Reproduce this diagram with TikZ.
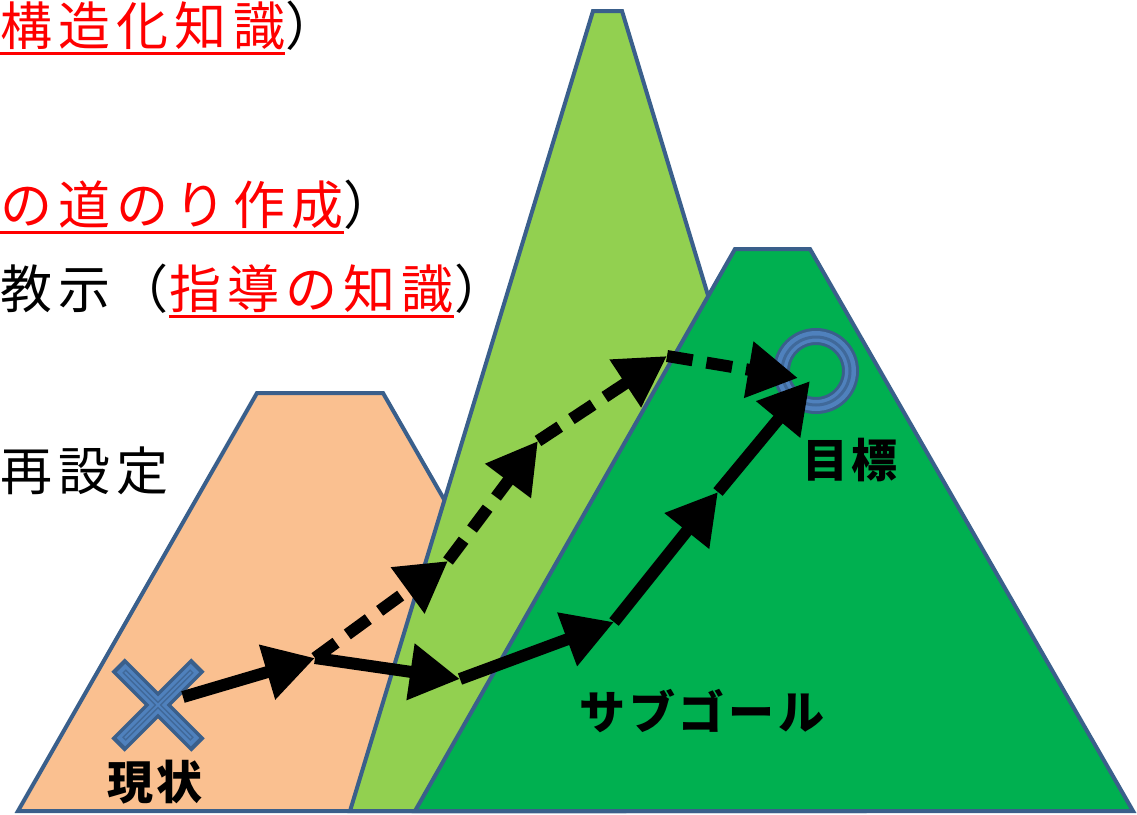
\documentclass[tikz,border=0pt]{standalone}
\usepackage{fontspec}
\newfontfamily\jp{Noto Sans CJK JP}[LetterSpace=12]
\newfontfamily\jpb{Noto Sans CJK JP}[LetterSpace=8]
\usetikzlibrary{arrows.meta}
\definecolor{peach}{HTML}{FAC090}
\definecolor{lgreen}{HTML}{92D050}
\definecolor{dgreen}{HTML}{00B050}
\definecolor{edge}{HTML}{3A5F8B}
\definecolor{mblue}{HTML}{4F81BD}
\definecolor{jred}{HTML}{FF0000}
\tikzset{
  mtn/.style={draw=edge, line width=4pt, line join=miter},
  txt/.style={inner sep=0pt, font=\jp\fontsize{52}{62}\selectfont},
  lbl/.style={inner sep=0pt, font=\jpb\bfseries\fontsize{46}{55}\selectfont},
  ul/.style={draw=jred, line width=3pt},
  arr/.style={line width=12pt, -{Triangle[length=50pt,width=54pt]}},
  darr/.style={arr, dash pattern=on 26pt off 14pt},
  ringdark/.style={draw=edge, line width=17pt},
  ringlight/.style={draw=mblue, line width=11pt},
  ringmid/.style={draw=edge!70!mblue, line width=3pt},
}
\begin{document}
\begin{tikzpicture}[x=1pt,y=-1pt]
\useasboundingbox (0,0) rectangle (1137,814);
\fill[white] (0,0) rectangle (1137,814);
% mountains
\draw[mtn, fill=peach] (18,811) -- (257,393) -- (383,393) -- (623,811) -- cycle;
\draw[mtn, fill=lgreen] (350,811) -- (593,11) -- (622,11) -- (864,811) -- cycle;
\draw[mtn, fill=dgreen] (415,811) -- (735,249) -- (810,249) -- (1133,811) -- cycle;
% texts
\node[txt, text=jred, anchor=base west] (t1) at (0,45) {構造化知識};
\node[txt, anchor=base west] (t1b) at (t1.base east) {）};
\draw[ul] ([yshift=-8pt]t1.base west) -- ([yshift=-8pt]t1.base east);
\node[txt, text=jred, anchor=base west] (t2) at (0,224) {の道のり作成};
\node[txt, anchor=base west] (t2b) at (t2.base east) {）};
\draw[ul] ([yshift=-8pt]t2.base west) -- ([yshift=-8pt]t2.base east);
\node[txt, anchor=base west] (t3a) at (0,308) {教示（};
\node[txt, text=jred, anchor=base west] (t3) at (t3a.base east) {指導の知識};
\node[txt, anchor=base west] (t3b) at (t3.base east) {）};
\draw[ul] ([yshift=-8pt]t3.base west) -- ([yshift=-8pt]t3.base east);
\node[txt, anchor=base west] (t4) at (0,490) {再設定};
% current state X
\coordinate (cur) at (158,705);
\draw[edge, line width=19pt] ([shift={(-40,-40)}]cur) -- ([shift={(40,40)}]cur)
  ([shift={(-40,40)}]cur) -- ([shift={(40,-40)}]cur);
\draw[mblue, line width=12pt] ([shift={(-37,-37)}]cur) -- ([shift={(37,37)}]cur)
  ([shift={(-37,37)}]cur) -- ([shift={(37,-37)}]cur);
\draw[edge!70!mblue, line width=5pt] ([shift={(-34,-34)}]cur) -- ([shift={(34,34)}]cur)
  ([shift={(-34,34)}]cur) -- ([shift={(34,-34)}]cur);
\draw[mblue, line width=2pt] ([shift={(-33,-33)}]cur) -- ([shift={(33,33)}]cur)
  ([shift={(-33,33)}]cur) -- ([shift={(33,-33)}]cur);
% goal ring
\coordinate (goal) at (816,371);
\draw[ringdark] (goal) circle[radius=34.5pt];
\draw[ringlight] (goal) circle[radius=34.5pt];
\draw[ringmid] (goal) circle[radius=34pt];
% labels
\node[lbl] (lcur) at (155,782) {現状};
\node[lbl] (lgoal) at (850,460) {目標};
\node[lbl] (lsub) at (702,711) {サブゴール};
% waypoints
\coordinate (s0) at (183,697);
\coordinate (p1) at (315,658);
\coordinate (p2) at (460,679);
\coordinate (p3) at (614,622);
\coordinate (p4) at (718,492);
\coordinate (g1) at (810,381);
\coordinate (d1) at (448,561);
\coordinate (d2) at (538,441);
\coordinate (d3) at (667,356);
\coordinate (g2) at (798,378);
% solid route
\draw[arr] (s0) -- (p1);
\draw[arr] (p1) -- (p2);
\draw[arr] (p2) -- (p3);
\draw[arr] (p3) -- (p4);
\draw[arr] (p4) -- (g1);
% dashed route
\draw[darr] (p1) -- (d1);
\draw[darr] (d1) -- (d2);
\draw[darr] (d2) -- (d3);
\draw[darr] (d3) -- (g2);
\end{tikzpicture}
\end{document}
